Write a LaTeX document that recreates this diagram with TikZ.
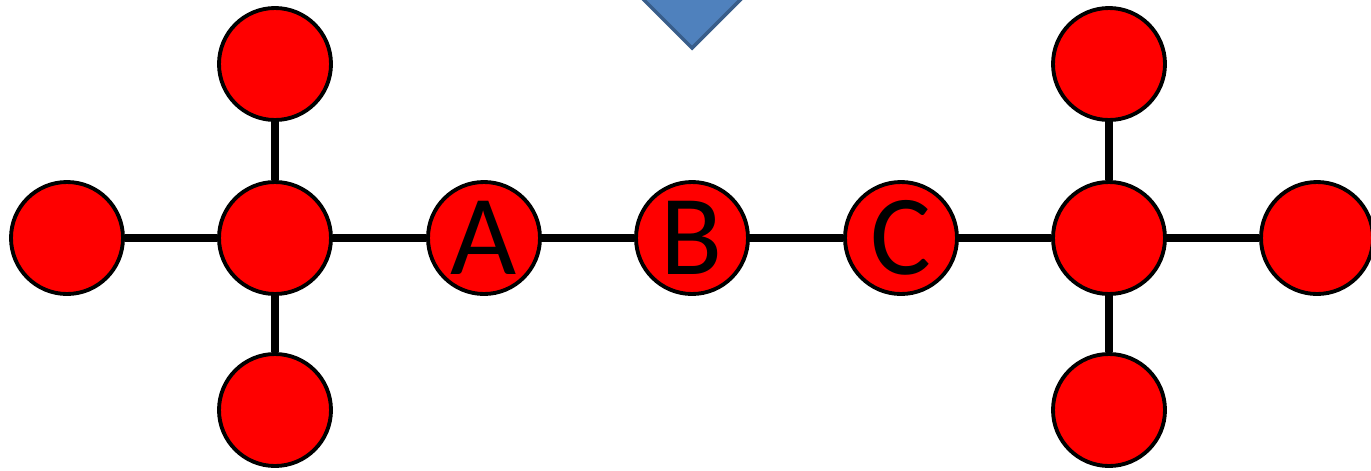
\documentclass[tikz,border=0pt]{standalone}
\usepackage{fontspec}
\setsansfont{Carlito}
\usepackage{tikz}
\usetikzlibrary{positioning}

\definecolor{atomred}{HTML}{FF0000}
\definecolor{arrowfill}{HTML}{4F81BD}
\definecolor{arrowline}{HTML}{385D8A}

\begin{document}
\begin{tikzpicture}
            \tikzstyle{atom}=[circle, draw=black, line width=2.2pt, fill=atomred, minimum size=2.24cm, inner sep=0pt, font=\sffamily\fontsize{65}{65}\selectfont]
            \tikzstyle{bond}=[line width=4pt, black]
            \useasboundingbox (0,0) rectangle (27.42,-9.4);
            \clip (0,0) rectangle (27.42,-9.4);
            % marker pointing at the middle atom
            \draw [line width=2pt, draw=arrowline, fill=arrowfill, line join=miter] (12.68,0.2) -- (15.0,0.2) -- (13.84,-0.96) -- cycle;
            % main chain
            \node [atom] (l1) at (1.34,-4.76) {};
            \node [atom] (l2) at (5.5,-4.76) {};
            \node [atom] (a) at (9.68,-4.76) {A};
            \node [atom] (b) at (13.84,-4.76) {B};
            \node [atom] (c) at (18.02,-4.76) {C};
            \node [atom] (r2) at (22.18,-4.76) {};
            \node [atom] (r1) at (26.34,-4.76) {};
            % branches
            \node [atom] (l2up) at (5.5,-1.28) {};
            \node [atom] (l2down) at (5.5,-8.2) {};
            \node [atom] (r2up) at (22.18,-1.28) {};
            \node [atom] (r2down) at (22.18,-8.2) {};
            \draw [bond] (l1) -- (l2);
            \draw [bond] (l2) -- (a);
            \draw [bond] (a) -- (b);
            \draw [bond] (b) -- (c);
            \draw [bond] (c) -- (r2);
            \draw [bond] (r2) -- (r1);
            \draw [bond] (l2up) -- (l2);
            \draw [bond] (l2) -- (l2down);
            \draw [bond] (r2up) -- (r2);
            \draw [bond] (r2) -- (r2down);
        \end{tikzpicture}
\end{document}
